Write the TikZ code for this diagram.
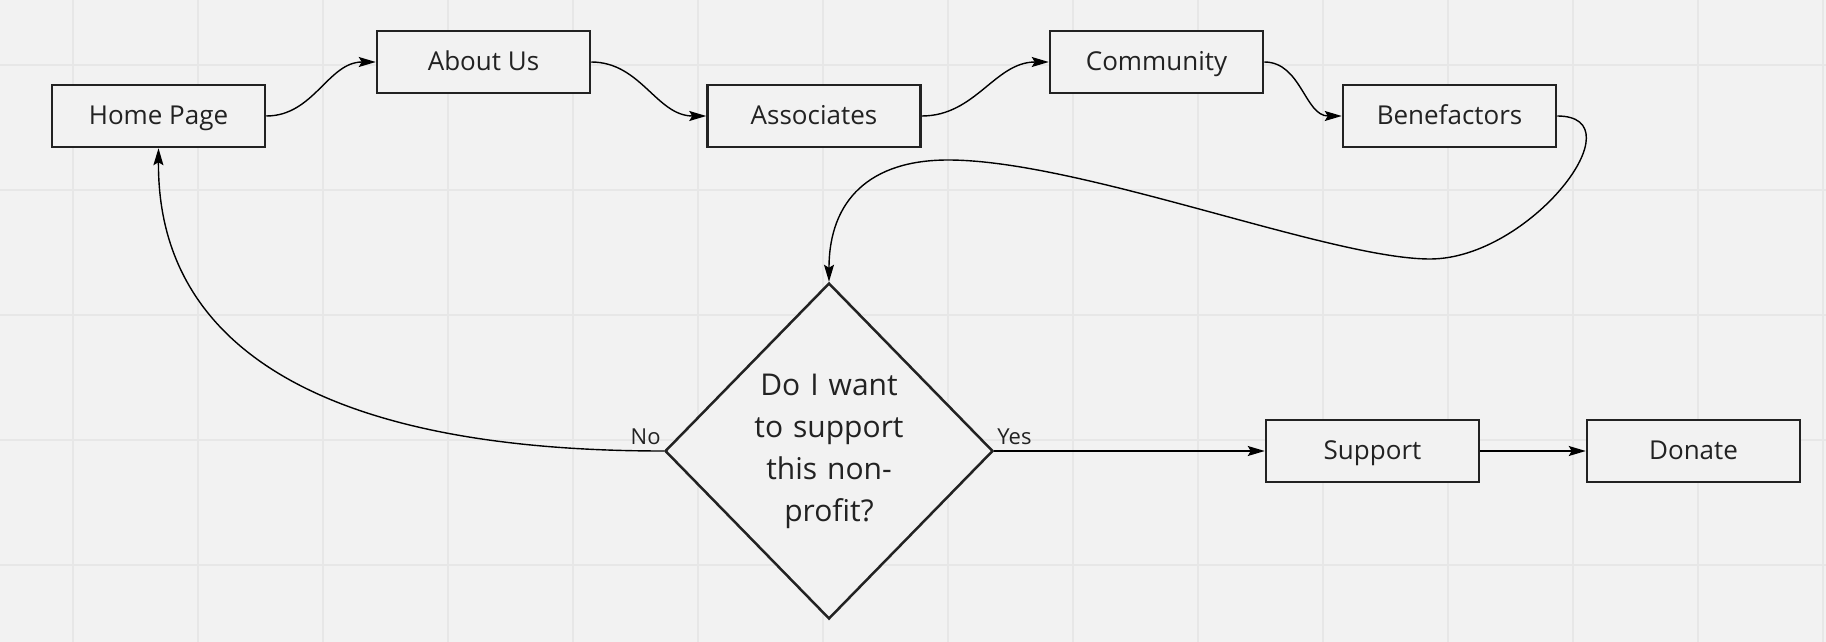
\documentclass[tikz,border=0pt]{standalone}
\usepackage{fontspec}
\setmainfont{Open Sans}
\usetikzlibrary{shapes.geometric,arrows.meta}
\definecolor{bg}{HTML}{F2F2F2}
\definecolor{gridc}{HTML}{E7E7E7}
\definecolor{ink}{HTML}{222222}
\tikzset{
  box/.style={draw=ink, line width=2.5pt, fill=bg, minimum width=213pt, minimum height=62pt,
    inner sep=0pt, text height=21pt, text depth=4pt, font=\fontsize{26pt}{30pt}\selectfont, text=ink},
  decision/.style={diamond, draw=ink, line width=2.5pt, fill=bg, minimum width=328pt,
    minimum height=336pt, inner sep=0pt, text width=160pt, align=center,
    font=\fontsize{30pt}{42pt}\selectfont, text=ink},
  conn/.style={draw=black, line width=1.4pt, -{Stealth[length=17pt,width=10pt,inset=3pt]}},
  lbl/.style={font=\fontsize{22pt}{26pt}\selectfont, text=ink, inner sep=0pt},
  gridline/.style={draw=gridc, line width=1.8pt}
}
\begin{document}
\begin{tikzpicture}[x=1pt,y=-1pt]
\fill[bg] (0,0) rectangle (1826,642);
\useasboundingbox (0,0) rectangle (1826,642);
\foreach \gx in {73,198,...,1823} \draw[gridline] (\gx,0) -- (\gx,642);
\foreach \gy in {65,190,315,440,565} \draw[gridline] (0,\gy) -- (1826,\gy);

\node[box] (hp) at (158.5,116) {Home Page};
\node[box] (au) at (483.5,62) {About Us};
\node[box] (as) at (814,116) {Associates};
\node[box] (cm) at (1156.5,62) {Community};
\node[box] (bf) at (1449.5,116) {Benefactors};
\node[decision] (d) at (829,451) {Do I want\\to support\\this non-\\profit?};
\node[box] (sp) at (1372.5,451) {Support};
\node[box] (dn) at (1693.5,451) {Donate};

\node[lbl, anchor=base east] (no) at ([xshift=-3pt,yshift=7pt]d.west) {No};
\node[lbl, anchor=base west] (yes) at ([xshift=3pt,yshift=7pt]d.east) {Yes};

\draw[conn] (hp.east) to[out=0,in=180] (au.west);
\draw[conn] (au.east) to[out=0,in=180] (as.west);
\draw[conn] (as.east) to[out=0,in=180] (cm.west);
\draw[conn] (cm.east) to[out=0,in=180] (bf.west);
\draw[conn] (bf.east) .. controls (1640,116) and (1530,259) .. (1430,259)
  .. controls (1330,259) and (1080,160) .. (948,160)
  .. controls (870,160) and (829,200) .. (d.north);
\draw[conn] (d.west) .. controls (200,451) and (158,260) .. (hp.south);
\draw[conn] (d.east) -- (sp.west);
\draw[conn] (sp.east) -- (dn.west);
\end{tikzpicture}
\end{document}
